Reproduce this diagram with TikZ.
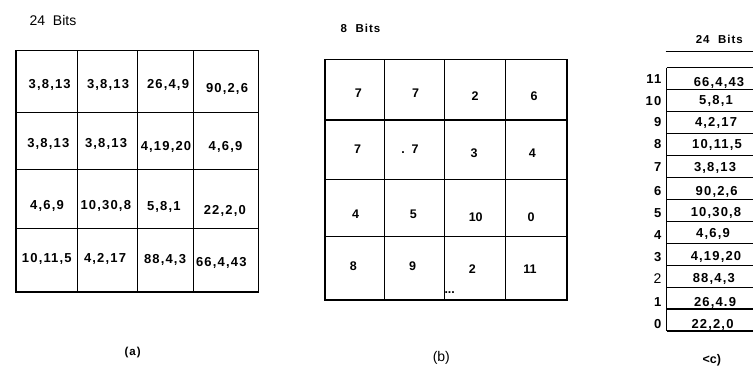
\documentclass[tikz,border=0pt]{standalone}
\usepackage{fontspec}
\setmainfont{Liberation Sans}
\newfontfamily\cellfont[LetterSpace=9]{Liberation Sans}
\begin{document}
\begin{tikzpicture}[x=1bp,y=-1bp,
  gridline/.style={line width=1.1bp, black},
  cell/.style={inner sep=0pt, font=\cellfont\bfseries\fontsize{13bp}{15bp}\selectfont},
  num/.style={inner sep=0pt, font=\bfseries\fontsize{12.5bp}{14bp}\selectfont},
  capt/.style={inner sep=0pt, font=\fontsize{14bp}{16bp}\selectfont},
  bcapt/.style={inner sep=0pt, font=\cellfont\bfseries\fontsize{11.5bp}{14bp}\selectfont}]
\useasboundingbox (0,0) rectangle (753,374);
\fill[white] (0,0) rectangle (753,374);

% ---------- (a) ----------
\node[capt] (ta) at (53,20) {24\ \ Bits};
\draw[gridline] (16,50.5) rectangle (258.3,292);
\foreach \x in {77.7,137.3,193.3} \draw[gridline] (\x,50.5) -- (\x,292);
\foreach \y in {112.7,169.3,228.7} \draw[gridline] (16,\y) -- (258.3,\y);
\node[cell] (a11) at (49.7,85) {3,8,13};
\node[cell] (a12) at (108,85) {3,8,13};
\node[cell] (a13) at (168,85) {26,4,9};
\node[cell] (a14) at (227,89.3) {90,2,6};
\node[cell] (a21) at (48.3,144) {3,8,13};
\node[cell] (a22) at (106,144) {3,8,13};
\node[cell] (a23) at (166,146.7) {4,19,20};
\node[cell] (a24) at (225.5,146.7) {4,6,9};
\node[cell] (a31) at (47,206) {4,6,9};
\node[cell] (a32) at (105.8,206) {10,30,8};
\node[cell] (a33) at (163.8,207) {5,8,1};
\node[cell] (a34) at (224.8,210.7) {22,2,0};
\node[cell] (a41) at (46.8,259.3) {10,11,5};
\node[cell] (a42) at (105,259.3) {4,2,17};
\node[cell] (a43) at (165,260) {88,4,3};
\node[cell] (a44) at (221.3,262.7) {66,4,43};
\node[bcapt] (la) at (132.7,353) {(a)};

% ---------- (b) ----------
\node[bcapt] (tb) at (360.5,28.3) {8\ \ Bits};
\draw[gridline] (325,59.3) rectangle (567,300);
\foreach \x in {384.3,444.3,505.5} \draw[gridline] (\x,59.3) -- (\x,300);
\foreach \y in {120,179.3,236.3} \draw[gridline] (325,\y) -- (567,\y);
\node[num] (b11) at (358.3,92.7) {7};
\node[num] (b12) at (415.7,92.7) {7};
\node[num] (b13) at (475,96) {2};
\node[num] (b14) at (534,96) {6};
\node[num] (b21) at (357.7,149.3) {7};
\node[num] (b22) at (410,149.3) {.\ \ 7};
\node[num] (b23) at (474,153.3) {3};
\node[num] (b24) at (532.3,153.3) {4};
\node[num] (b31) at (355.7,214) {4};
\node[num] (b32) at (413.3,214) {5};
\node[num] (b33) at (475.7,216.7) {10};
\node[num] (b34) at (531,216.7) {0};
\node[num] (b41) at (353.3,266) {8};
\node[num] (b42) at (412.7,266) {9};
\node[num] (b43) at (472.3,268.7) {2};
\node[num] (b44) at (530,268.7) {11};
\node[num, anchor=west] (bdots) at (444.3,293) {...};
\node[capt] (lb) at (441.3,358) {(b)};

% ---------- (c) ----------
\node[bcapt] (tc) at (719.3,39.3) {24\ \ Bits};
\draw[gridline] (665.7,51.7) -- (753,51.7);
\draw[gridline] (666.7,67.7) -- (666.7,331);
\foreach \i in {0,...,12} \draw[gridline] (666.7,{67.7+\i*21.94}) -- (753,{67.7+\i*21.94});
\foreach \lab/\val/\ly/\vy/\vx in {11/66{,}4{,}43/79.3/82.7/719,
  10/5{,}8{,}1/101/101/716,
  9/4{,}2{,}17/121.7/122.7/716,
  8/10{,}11{,}5/144.3/145/717,
  7/3{,}8{,}13/166.7/168.3/715,
  6/90{,}2{,}6/190.7/191.7/716.7,
  5/10{,}30{,}8/212.7/213.3/716,
  4/4{,}6{,}9/235/234.3/713,
  3/4{,}19{,}20/257.3/256.7/716,
  1/26{,}4.9/301.7/302.7/715,
  0/22{,}2{,}0/324/325/712.5}
{
  \node[cell, anchor=east] (c\lab) at (661.5,\ly) {\lab};
  \node[cell] (v\lab) at (\vx,\vy) {\val};
}
\node[capt, anchor=east] (c2) at (661.5,278.3) {2};
\node[cell] (v2) at (713.8,279.3) {88,4,3};
\node[num] (lc) at (711.7,360) {<c)};
\end{tikzpicture}
\end{document}
